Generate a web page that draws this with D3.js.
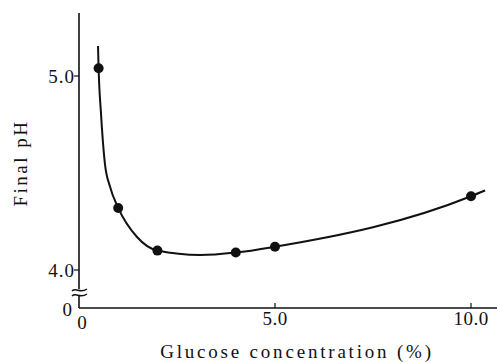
<!DOCTYPE html>
<html>
<head>
<meta charset="utf-8">
<script src="https://cdn.jsdelivr.net/npm/d3@7"></script>
<style>
  html, body { margin: 0; padding: 0; background: #fff; }
  svg text { font-family: "Liberation Serif", "DejaVu Serif", serif; fill: #111; }
</style>
</head>
<body>
<div id="chart"></div>
<script>
// measured points
const glucose = [0.5, 1, 2, 4, 5, 10];
const finalPH = [5.04, 4.32, 4.10, 4.09, 4.12, 4.38];

// hand-drawn fitted curve
const curveGlucose = [0.485, 0.5, 0.56, 0.66, 0.79, 1, 1.48, 2, 3.09, 4, 5, 10, 10.36];
const curvePH      = [5.155, 5.04, 4.81, 4.55, 4.43, 4.32, 4.17, 4.10, 4.077, 4.09, 4.12, 4.38, 4.41];

const xTicks = [5, 10];
const yTicks = [4, 5];

const W = 498, H = 364;
const svg = d3.select("#chart").append("svg")
    .attr("width", W).attr("height", H);

const x = d3.scaleLinear().domain([0, 10]).range([79, 471]);
const y = d3.scaleLinear().domain([4, 5]).range([270, 76]);

const axisY0 = 308;   // where the x axis sits (broken scale)
const xEnd = 497;

// x axis line
svg.append("line")
    .attr("x1", x(0)).attr("x2", xEnd)
    .attr("y1", axisY0).attr("y2", axisY0)
    .attr("stroke", "#111").attr("stroke-width", 1.6);

// x ticks (pointing up)
svg.selectAll(".xtick").data(xTicks).enter().append("line")
    .attr("x1", d => x(d)).attr("x2", d => x(d))
    .attr("y1", axisY0).attr("y2", axisY0 - 5)
    .attr("stroke", "#111").attr("stroke-width", 1.2);

svg.selectAll(".xlab").data(xTicks).enter().append("text")
    .attr("x", d => x(d)).attr("y", 325)
    .attr("text-anchor", "middle")
    .attr("font-size", "19px")
    .attr("letter-spacing", "0.5px")
    .text(d => d.toFixed(1));

// y axis line, broken near the bottom
svg.append("line")
    .attr("x1", x(0)).attr("x2", x(0))
    .attr("y1", 13).attr("y2", 289)
    .attr("stroke", "#111").attr("stroke-width", 1.6);
svg.append("line")
    .attr("x1", x(0)).attr("x2", x(0))
    .attr("y1", 296).attr("y2", axisY0)
    .attr("stroke", "#111").attr("stroke-width", 1.6);

// break marks
[290, 295].forEach(by => {
    const x0 = x(0);
    svg.append("path")
        .attr("d", `M${x0 - 7},${by + 1} C${x0 - 3},${by - 3} ${x0 + 1},${by + 4} ${x0 + 8},${by - 1}`)
        .attr("fill", "none").attr("stroke", "#111").attr("stroke-width", 1.5);
});

// y ticks (pointing left)
svg.selectAll(".ytick").data(yTicks).enter().append("line")
    .attr("x1", x(0) - 5).attr("x2", x(0))
    .attr("y1", d => y(d)).attr("y2", d => y(d))
    .attr("stroke", "#111").attr("stroke-width", 1.2);

svg.selectAll(".ylab").data(yTicks).enter().append("text")
    .attr("x", x(0) - 4).attr("y", d => y(d) + 7)
    .attr("text-anchor", "end")
    .attr("font-size", "19px")
    .attr("letter-spacing", "1px")
    .text(d => d.toFixed(1));

// origin zeros
svg.append("text").attr("x", 72).attr("y", 316)
    .attr("text-anchor", "end").attr("font-size", "19px").text("0");
svg.append("text").attr("x", 82).attr("y", 329)
    .attr("text-anchor", "middle").attr("font-size", "19px").text("0");

// axis titles
svg.append("text")
    .attr("transform", "translate(27,163) rotate(-90)")
    .attr("text-anchor", "middle")
    .attr("font-size", "19px")
    .attr("letter-spacing", "2.5px")
    .text("Final pH");

svg.append("text")
    .attr("x", 297).attr("y", 358)
    .attr("text-anchor", "middle")
    .attr("font-size", "19px")
    .attr("letter-spacing", "2.8px")
    .text("Glucose concentration (%)");

// fitted curve
const line = d3.line()
    .x(d => x(d[0])).y(d => y(d[1]))
    .curve(d3.curveMonotoneX);
svg.append("path")
    .datum(d3.zip(curveGlucose, curvePH))
    .attr("d", line)
    .attr("fill", "none")
    .attr("stroke", "#111")
    .attr("stroke-width", 2);

// points
svg.selectAll(".pt").data(d3.zip(glucose, finalPH)).enter().append("circle")
    .attr("cx", d => x(d[0])).attr("cy", d => y(d[1]))
    .attr("r", 5)
    .attr("fill", "#111");
</script>
</body>
</html>
